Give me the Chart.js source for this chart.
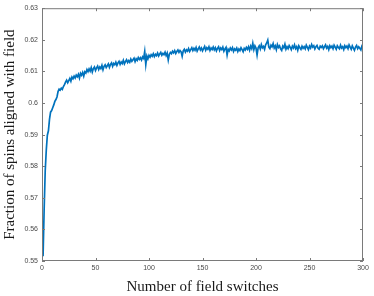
<!DOCTYPE html>
<html>
<head>
<meta charset="utf-8">
<script src="https://cdn.jsdelivr.net/npm/chart.js@4.4.0/dist/chart.umd.min.js"></script>
<style>
  html, body { margin: 0; padding: 0; background: #fff; }
  #wrap { width: 374px; height: 296px; }
</style>
</head>
<body>
<div id="wrap"><canvas id="myChart" width="374" height="296"></canvas></div>
<script>
// fraction of spins aligned with the field after each field switch (1..300)
const fraction = [
    0.5515, 0.5662, 0.5785, 0.5851, 0.5898, 0.5912, 0.5948, 0.5971, 0.5976, 0.5985,
    0.5994, 0.6005, 0.6011, 0.6019, 0.6036, 0.6044, 0.6041, 0.6047, 0.6043, 0.6052,
    0.6058, 0.6066, 0.6072, 0.6064, 0.6071, 0.6078, 0.6069, 0.6082, 0.6077, 0.6085,
    0.6079, 0.6088, 0.6083, 0.6091, 0.6079, 0.6094, 0.6088, 0.6097, 0.6085, 0.6099,
    0.6095, 0.6106, 0.6099, 0.6108, 0.6101, 0.6112, 0.6098, 0.6109, 0.6114, 0.6103,
    0.6111, 0.6117, 0.6106, 0.6114, 0.6109, 0.6119, 0.6105, 0.6116, 0.6121, 0.6112,
    0.6118, 0.6124, 0.6113, 0.6122, 0.6127, 0.6116, 0.6125, 0.6121, 0.6129, 0.6119,
    0.6127, 0.6132, 0.6122, 0.6130, 0.6125, 0.6135, 0.6124, 0.6131, 0.6137, 0.6128,
    0.6134, 0.6129, 0.6139, 0.6132, 0.6137, 0.6142, 0.6131, 0.6140, 0.6135, 0.6144,
    0.6138, 0.6143, 0.6136, 0.6146, 0.6141, 0.6163, 0.6122, 0.6149, 0.6140, 0.6151,
    0.6145, 0.6153, 0.6148, 0.6156, 0.6147, 0.6154, 0.6150, 0.6158, 0.6149, 0.6155,
    0.6160, 0.6151, 0.6157, 0.6153, 0.6161, 0.6150, 0.6158, 0.6136, 0.6154, 0.6160,
    0.6156, 0.6164, 0.6159, 0.6166, 0.6157, 0.6163, 0.6168, 0.6160, 0.6166, 0.6162,
    0.6148, 0.6165, 0.6170, 0.6161, 0.6168, 0.6164, 0.6172, 0.6163, 0.6169, 0.6175,
    0.6166, 0.6173, 0.6167, 0.6176, 0.6164, 0.6171, 0.6177, 0.6168, 0.6174, 0.6165,
    0.6172, 0.6179, 0.6167, 0.6175, 0.6170, 0.6178, 0.6166, 0.6174, 0.6169, 0.6177,
    0.6168, 0.6175, 0.6165, 0.6173, 0.6178, 0.6166, 0.6174, 0.6169, 0.6177, 0.6164,
    0.6171, 0.6176, 0.6152, 0.6170, 0.6165, 0.6174, 0.6168, 0.6175, 0.6163, 0.6171,
    0.6167, 0.6174, 0.6163, 0.6171, 0.6166, 0.6175, 0.6169, 0.6162, 0.6173, 0.6168,
    0.6176, 0.6170, 0.6178, 0.6167, 0.6180, 0.6172, 0.6189, 0.6169, 0.6181, 0.6174,
    0.6152, 0.6175, 0.6181, 0.6171, 0.6185, 0.6175, 0.6179, 0.6170, 0.6184, 0.6190,
    0.6199, 0.6177, 0.6172, 0.6183, 0.6178, 0.6188, 0.6174, 0.6181, 0.6169, 0.6185,
    0.6176, 0.6181, 0.6171, 0.6166, 0.6180, 0.6175, 0.6186, 0.6170, 0.6178, 0.6172,
    0.6182, 0.6176, 0.6169, 0.6180, 0.6174, 0.6184, 0.6172, 0.6178, 0.6167, 0.6181,
    0.6175, 0.6170, 0.6180, 0.6173, 0.6178, 0.6171, 0.6183, 0.6176, 0.6169, 0.6180,
    0.6174, 0.6185, 0.6177, 0.6181, 0.6171, 0.6178, 0.6182, 0.6173, 0.6170, 0.6180,
    0.6176, 0.6181, 0.6172, 0.6178, 0.6184, 0.6174, 0.6179, 0.6169, 0.6181, 0.6175,
    0.6180, 0.6172, 0.6183, 0.6177, 0.6170, 0.6181, 0.6176, 0.6172, 0.6183, 0.6174,
    0.6178, 0.6169, 0.6181, 0.6175, 0.6180, 0.6172, 0.6184, 0.6177, 0.6170, 0.6181,
    0.6174, 0.6167, 0.6177, 0.6182, 0.6172, 0.6178, 0.6173, 0.6168, 0.6180, 0.6176
]
const xTicks = [0, 50, 100, 150, 200, 250, 300]
const yTicks = [0.55, 0.56, 0.57, 0.58, 0.59, 0.6, 0.61, 0.62, 0.63]
const xTitle = 'Number of field switches'
const yTitle = 'Fraction of spins aligned with field'

const points = fraction.map((f, i) => ({ x: i + 1, y: f }))

// matlab style box with inward ticks
const boxPlugin = {
    id: 'box',
    afterDraw(chart) {
        const { ctx, chartArea: a, scales } = chart
        ctx.save()
        ctx.strokeStyle = '#7a7a7a'
        ctx.lineWidth = 1
        ctx.strokeRect(a.left + 0.5, a.top + 0.5, a.right - a.left - 1, a.bottom - a.top - 1)
        ctx.beginPath()
        xTicks.forEach(t => {
            let px = Math.round(scales.x.getPixelForValue(t)) + 0.5
            ctx.moveTo(px, a.bottom); ctx.lineTo(px, a.bottom - 3)
            ctx.moveTo(px, a.top); ctx.lineTo(px, a.top + 3)
        })
        yTicks.forEach(t => {
            let py = Math.round(scales.y.getPixelForValue(t)) + 0.5
            ctx.moveTo(a.left, py); ctx.lineTo(a.left + 3, py)
            ctx.moveTo(a.right, py); ctx.lineTo(a.right - 3, py)
        })
        ctx.stroke()
        ctx.restore()
    }
}

let myChart = new Chart(document.getElementById('myChart').getContext('2d'), {
    type: 'line',
    data: {
        datasets: [{
            data: points,
            borderColor: '#0072BD',
            borderWidth: 1.7,
            pointRadius: 0,
            tension: 0
        }]
    },
    options: {
        responsive: false,
        animation: false,
        layout: { padding: { top: 8, right: 11, left: 0, bottom: 0 } },
        plugins: { legend: { display: false }, tooltip: { enabled: false } },
        scales: {
            x: {
                type: 'linear',
                min: 0,
                max: 300,
                afterBuildTicks: (scale) => { scale.ticks = xTicks.map(v => ({ value: v })) },
                afterFit: (scale) => { scale.height = 35 },
                grid: { display: false, drawTicks: false },
                border: { display: false },
                ticks: {
                    padding: 3,
                    color: '#4a4a4a',
                    font: { family: 'Liberation Sans', size: 7 },
                    maxRotation: 0
                },
                title: {
                    display: true,
                    text: xTitle,
                    color: '#1a1a1a',
                    font: { family: 'Liberation Serif', size: 15 },
                    padding: { top: 0, bottom: 0 }
                }
            },
            y: {
                min: 0.55,
                max: 0.63,
                afterBuildTicks: (scale) => { scale.ticks = yTicks.map(v => ({ value: v })) },
                afterFit: (scale) => { scale.width = 42 },
                grid: { display: false, drawTicks: false },
                border: { display: false },
                ticks: {
                    padding: 4,
                    color: '#4a4a4a',
                    font: { family: 'Liberation Sans', size: 7 },
                    callback: (v) => String(+v.toFixed(2))
                },
                title: {
                    display: true,
                    text: yTitle,
                    color: '#1a1a1a',
                    font: { family: 'Liberation Serif', size: 15 },
                    padding: { top: 1, bottom: 0 }
                }
            }
        }
    },
    plugins: [boxPlugin]
})
</script>
</body>
</html>
